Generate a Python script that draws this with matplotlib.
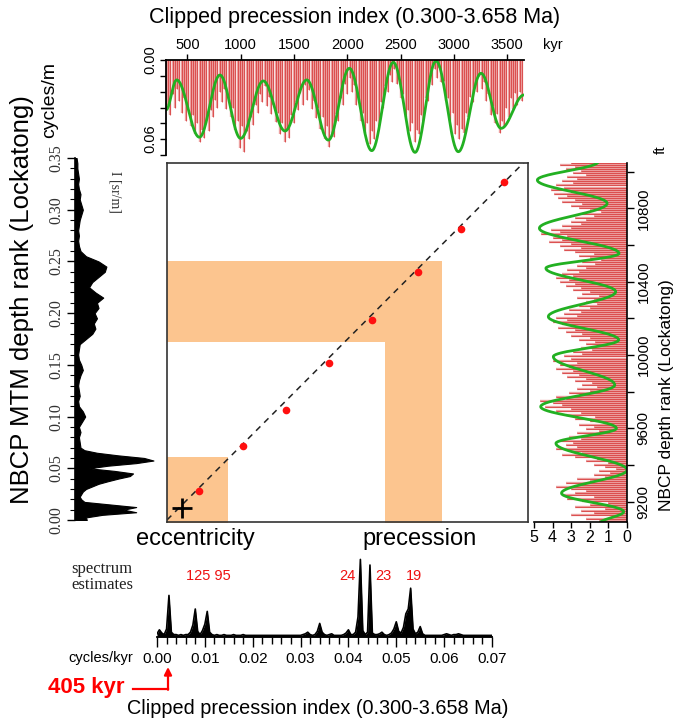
import numpy as np
import matplotlib
matplotlib.use('Agg')
import matplotlib.pyplot as plt
from matplotlib.ticker import MultipleLocator

W, H = 678, 724
plt.rcParams['font.family'] = ['Liberation Sans', 'DejaVu Sans']

# ------------------------------------------------------------------ data
# Top panel: clipped precession index (spike depth, 1/1000 units), one per 21 kyr from 300 kyr
prec_start_kyr = 300
prec_step_kyr = 21
prec_depth_milli = [
    38, 34, 42, 26, 36, 22, 31, 40, 29, 46, 36, 50, 42, 56, 48, 62, 53, 59, 46, 54,
    38, 43, 30, 36, 24, 32, 22, 37, 29, 43, 36, 53, 46, 67, 50, 70, 54, 60, 43, 49,
    34, 40, 26, 32, 20, 35, 28, 41, 34, 47, 40, 56, 48, 62, 53, 59, 42, 48, 32, 38,
    25, 34, 19, 30, 23, 37, 31, 44, 36, 52, 43, 60, 50, 66, 55, 58, 41, 46, 29, 34,
    18, 26, 14, 24, 19, 34, 30, 46, 40, 55, 48, 64, 54, 60, 46, 50, 32, 36, 20, 24,
    11, 17, 7, 18, 14, 29, 26, 43, 38, 54, 48, 62, 53, 56, 42, 46, 29, 31, 16, 19,
    7, 14, 6, 17, 16, 31, 29, 46, 40, 56, 49, 60, 52, 55, 40, 43, 28, 32, 18, 24,
    12, 22, 17, 31, 26, 42, 35, 48, 41, 55, 46, 50, 36, 43, 29, 37, 25, 34, 24, 31]
# green filtered curve: extrema (kyr, value)
green_top_kyr = [300, 400, 613, 806, 1000, 1213, 1416, 1620, 1823, 2020, 2230,
                 2432, 2636, 2833, 3042, 3255, 3443, 3658]
green_top_val = [0.0378, 0.0151, 0.0585, 0.0114, 0.0594, 0.0159, 0.0538, 0.0151,
                 0.0607, 0.0063, 0.0687, 0.0018, 0.0700, 0.0007, 0.0695, 0.0101,
                 0.0518, 0.0265]
top_xticks = [500, 1000, 1500, 2000, 2500, 3000, 3500]

# Right panel: NBCP depth rank (tenths), evenly spaced from 9092 ft to 11045 ft
rank_depth_range_ft = (9092, 11045)
rank_tenths = [
    15, 22, 8, 30, 18, 25, 12, 28, 20, 10,
    24, 32, 18, 35, 28, 22, 30, 38, 25, 33,
    20, 27, 12, 18, 9, 15, 6, 12, 18, 10,
    22, 16, 28, 35, 24, 30, 38, 27, 33, 29,
    36, 25, 31, 20, 27, 15, 22, 18, 26, 12,
    20, 28, 17, 33, 25, 38, 30, 44, 35, 40,
    47, 33, 38, 26, 31, 20, 27, 16, 24, 19,
    28, 22, 32, 26, 35, 29, 38, 31, 36, 27,
    40, 30, 34, 24, 29, 19, 25, 14, 22, 17,
    26, 20, 30, 24, 33, 28, 37, 30, 35, 40,
    32, 38, 27, 34, 25, 31, 20, 26, 16, 22,
    18, 27, 15, 24, 20, 29, 25, 33, 28, 36,
    31, 38, 29, 35, 26, 32, 22, 27, 17, 24,
    14, 20, 26, 18, 28, 34, 25, 36, 30, 42,
    35, 40, 32, 46, 36, 41, 30, 35, 25, 30,
    22, 28, 18, 24, 14, 20, 26, 30, 24, 35,
    28, 37, 32, 39, 30, 41, 34, 38, 29, 35,
    27, 32, 22, 29, 25, 33, 28, 36, 30]
green_right_ft = [11054, 10954, 10827, 10691, 10554, 10473, 10345, 10209, 10082,
                  9991, 9836, 9718, 9600, 9518, 9373, 9246, 9145, 9082]
green_right_val = [1.55, 4.82, 1.07, 4.71, 0.43, 4.36, 0.61, 4.23, 0.45,
                   3.96, 0.66, 4.64, 0.57, 3.82, 0.00, 3.52, 0.18, 1.46]
right_yticks = [9200, 9400, 9600, 9800, 10000, 10200, 10400, 10600, 10800, 11000]
right_ylabels = ['9200', '', '9600', '', '10000', '', '10400', '', '10800', '']

# Left panel: MTM spectrum of depth rank (cycles/m, relative power)
left_amp_fine = [0.15, 0.14, 0.35, 0.78, 0.62, 0.78, 0.45, 0.12, 0.08, 0.06,
                 0.08, 0.10, 0.14, 0.22, 0.30, 0.42, 0.55, 0.70, 0.74, 0.50,
                 0.18, 0.42, 0.78, 1.00, 0.88, 0.55, 0.28, 0.12, 0.07]   # 0..0.07 step 0.0025
left_amp_coarse = [0.06, 0.05, 0.07, 0.05, 0.09, 0.13, 0.10, 0.05, 0.04, 0.06,
                   0.05, 0.04, 0.05, 0.07, 0.10, 0.08, 0.05, 0.04, 0.05, 0.06,
                   0.14, 0.22, 0.26, 0.24, 0.28, 0.25, 0.30, 0.28, 0.36, 0.26,
                   0.18, 0.22, 0.30, 0.38, 0.40, 0.30, 0.14, 0.07, 0.05, 0.04,
                   0.05, 0.04, 0.05, 0.06, 0.08, 0.10, 0.08, 0.06, 0.07, 0.05,
                   0.04, 0.05, 0.04, 0.03, 0.03, 0.02]                    # 0.075..0.35 step 0.005

# Bottom panel: spectrum of clipped precession index (cycles/kyr, step 0.0005)
bottom_amp = [
    0.04, 0.09, 0.05, 0.03, 0.10, 0.52, 0.06, 0.03, 0.03, 0.02,
    0.03, 0.02, 0.03, 0.03, 0.06, 0.15, 0.35, 0.07, 0.03, 0.08,
    0.16, 0.32, 0.06, 0.03, 0.02, 0.03, 0.02, 0.02, 0.03, 0.02,
    0.02, 0.02, 0.03, 0.02, 0.02, 0.02, 0.03, 0.02, 0.02, 0.02,
    0.02, 0.02, 0.02, 0.02, 0.02, 0.02, 0.02, 0.02, 0.02, 0.02,
    0.02, 0.02, 0.02, 0.02, 0.02, 0.02, 0.02, 0.02, 0.02, 0.02,
    0.02, 0.03, 0.04, 0.06, 0.03, 0.02, 0.03, 0.07, 0.17, 0.06,
    0.03, 0.02, 0.03, 0.04, 0.02, 0.02, 0.02, 0.02, 0.03, 0.05,
    0.09, 0.03, 0.03, 0.06, 0.25, 0.97, 0.08, 0.03, 0.06, 0.90,
    0.05, 0.03, 0.03, 0.04, 0.06, 0.03, 0.02, 0.03, 0.05, 0.10,
    0.19, 0.07, 0.05, 0.12, 0.29, 0.35, 0.61, 0.10, 0.04, 0.06,
    0.13, 0.04, 0.02, 0.02, 0.02, 0.02, 0.02, 0.02, 0.02, 0.02,
    0.03, 0.04, 0.03, 0.02, 0.03, 0.03, 0.04, 0.03, 0.02, 0.02,
    0.02, 0.02, 0.02, 0.02, 0.02, 0.02, 0.02, 0.02, 0.02, 0.02,
    0.02]
bottom_step = 0.0005
bottom_xticks = [0.00, 0.01, 0.02, 0.03, 0.04, 0.05, 0.06, 0.07]
peak_labels = ['125 95', '24', '23', '19']

# Centre panel: frequency cross-plot
dot_cyc_kyr = [0.0062, 0.0147, 0.0231, 0.0315, 0.0398, 0.0486, 0.0570, 0.0653]
dot_cyc_m = [0.0284, 0.0716, 0.1064, 0.1516, 0.1939, 0.2397, 0.2813, 0.3268]
plus_cyc_kyr = [0.00285]
plus_cyc_m = [0.0113]
diag_x = [0.0, 0.07]
diag_y = [0.0, 0.35]
ecc_band_kyr = [0.0, 0.0118]
ecc_band_m = [0.0, 0.061]
prec_band_kyr = [0.0423, 0.0534]
prec_band_m = [0.1725, 0.2506]

# ------------------------------------------------------------------ helpers
def rect(x0, y0, x1, y1):
    return [x0 / W, 1 - y1 / H, (x1 - x0) / W, (y1 - y0) / H]


def smooth_through(xs, ys, n=40):
    X, Y = [], []
    for i in range(len(xs) - 1):
        s = np.linspace(0, 1, n, endpoint=False)
        X.append(xs[i] + (xs[i + 1] - xs[i]) * s)
        Y.append(ys[i] + (ys[i + 1] - ys[i]) * (1 - np.cos(np.pi * s)) / 2)
    X.append([xs[-1]])
    Y.append([ys[-1]])
    return np.concatenate(X), np.concatenate(Y)


RED = '#d42a2a'
PINK = '#e68080'
GREEN = '#22b022'
ORANGE = '#fcc58f'
SPINE = '#333333'
SERIF = ['Liberation Serif', 'DejaVu Serif']

fig = plt.figure(figsize=(W / 100, H / 100), dpi=100)
fig.patch.set_facecolor('white')

# ------------------------------------------------------------------ top panel
axT = fig.add_axes(rect(166, 60, 524, 155))
t = prec_start_kyr + prec_step_kyr * np.arange(len(prec_depth_milli))
dT = np.array(prec_depth_milli) / 1000.0
axT.vlines(t, 0, dT, color=PINK, alpha=0.75, lw=1.7)
axT.vlines(t, 0, dT, color=RED, alpha=0.8, lw=0.6)
gx, gy = smooth_through(green_top_kyr, green_top_val)
axT.plot(gx, gy, color=GREEN, lw=2)
axT.set_xlim(300, 3658)
axT.set_ylim(0.072, 0)
axT.xaxis.tick_top()
axT.set_xticks(top_xticks)
axT.set_yticks([0, 0.012, 0.024, 0.036, 0.048, 0.06, 0.072])
axT.set_yticklabels(['0.00', '', '', '', '', '0.06', ''])
for s in ['right', 'bottom']:
    axT.spines[s].set_visible(False)
for s in ['top', 'left']:
    axT.spines[s].set_linewidth(1.3)
axT.tick_params(axis='x', labelsize=10.5, length=4, width=1, pad=2)
axT.tick_params(axis='y', labelsize=10.5, length=4, width=1, labelrotation=90, pad=2)
for lab in axT.get_yticklabels():
    lab.set_va('center')

# ------------------------------------------------------------------ centre panel
axC = fig.add_axes(rect(167, 163, 528, 522))
axC.set_xlim(0, 0.07)
axC.set_ylim(-0.002, 0.3455)
axC.fill_between(ecc_band_kyr, -0.01, ecc_band_m[1], color=ORANGE, lw=0)
axC.fill_between([0.0, prec_band_kyr[1]], prec_band_m[0], prec_band_m[1], color=ORANGE, lw=0)
axC.fill_between(prec_band_kyr, -0.01, prec_band_m[1], color=ORANGE, lw=0)
axC.plot(diag_x, diag_y, color='#222222', lw=1.1, dashes=(4, 3.5))
axC.plot(dot_cyc_kyr, dot_cyc_m, 'o', color='#ff1010', ms=5.5, mec='none')
axC.plot(plus_cyc_kyr, plus_cyc_m, marker='+', ms=14, mew=2, color='black', ls='none')
axC.set_xticks([])
axC.set_yticks([])
for s in axC.spines.values():
    s.set_color(SPINE)
    s.set_linewidth(1.2)

# ------------------------------------------------------------------ left spectrum
axL = fig.add_axes(rect(75, 158, 155, 520))
freqL = np.concatenate([np.arange(len(left_amp_fine)) * 0.0025,
                        0.075 + np.arange(len(left_amp_coarse)) * 0.005])
ampL = np.array(left_amp_fine + left_amp_coarse)
axL.fill_betweenx(freqL, 0, ampL, color='black', lw=0.8)
axL.set_ylim(0, 0.35)
axL.set_xlim(0, 1.02)
axL.patch.set_alpha(0)
for s in ['right', 'top', 'bottom']:
    axL.spines[s].set_visible(False)
axL.spines['left'].set_linewidth(1.2)
axL.set_xticks([])
axL.yaxis.set_minor_locator(MultipleLocator(0.01))
axL.set_yticks([0, 0.05, 0.10, 0.15, 0.20, 0.25, 0.30, 0.35])
axL.set_yticklabels(['0.00', '0.05', '0.10', '0.15', '0.20', '0.25', '0.30', '0.35'])
axL.tick_params(axis='y', which='major', length=6, width=1, labelsize=11.5,
                labelrotation=90, pad=2)
axL.tick_params(axis='y', which='minor', length=3.5, width=0.8)
for lab in axL.get_yticklabels():
    lab.set_family(SERIF)
    lab.set_va('center')
    lab.set_color('#333333')

# ------------------------------------------------------------------ right panel
axR = fig.add_axes(rect(534, 163, 627, 522))
depths = np.linspace(rank_depth_range_ft[0], rank_depth_range_ft[1], len(rank_tenths))
vR = np.array(rank_tenths) / 10.0
axR.hlines(depths, 0, vR, color=PINK, alpha=0.75, lw=1.7)
axR.hlines(depths, 0, vR, color=RED, alpha=0.8, lw=0.6)
rx, ry = smooth_through(green_right_ft, green_right_val)
axR.plot(ry, rx, color=GREEN, lw=2)
axR.set_xlim(5, 0)
axR.set_ylim(9089, 11047)
axR.patch.set_alpha(0)
axR.yaxis.tick_right()
axR.set_yticks(right_yticks)
axR.set_yticklabels(right_ylabels)
axR.set_xticks([5, 4, 3, 2, 1, 0])
for s in ['left', 'top']:
    axR.spines[s].set_visible(False)
for s in ['right', 'bottom']:
    axR.spines[s].set_linewidth(1.2)
axR.tick_params(axis='y', length=5, width=1, labelsize=11, labelrotation=90, pad=2)
axR.tick_params(axis='x', length=4, width=1, labelsize=11.5, pad=2)
for lab in axR.get_yticklabels():
    lab.set_va('center')

# ------------------------------------------------------------------ bottom spectrum
axB = fig.add_axes(rect(157, 557, 492, 637))
fB = np.arange(len(bottom_amp)) * bottom_step
axB.fill_between(fB, 0, bottom_amp, color='black', lw=0)
axB.plot(fB, bottom_amp, color='black', lw=1.2)
axB.set_xlim(0, 0.07)
axB.set_ylim(0, 1.0)
axB.patch.set_alpha(0)
for s in ['left', 'right', 'top']:
    axB.spines[s].set_visible(False)
axB.spines['bottom'].set_linewidth(1.3)
axB.set_yticks([])
axB.set_xticks(bottom_xticks)
axB.set_xticklabels(['%.2f' % v for v in bottom_xticks])
axB.xaxis.set_minor_locator(MultipleLocator(0.002))
axB.tick_params(axis='x', which='major', length=7, width=1, labelsize=11, pad=4)
axB.tick_params(axis='x', which='minor', length=5, width=1)

# ------------------------------------------------------------------ free text overlay
ov = fig.add_axes([0, 0, 1, 1])
ov.set_xlim(0, W)
ov.set_ylim(H, 0)
ov.axis('off')
ov.set_zorder(10)
ov.patch.set_alpha(0)

ov.text(355, 18, 'Clipped precession index (0.300-3.658 Ma)', fontsize=15.5,
        ha='center', va='center')
ov.text(553, 45, 'kyr', fontsize=10.5, ha='center', va='center')
ov.text(50, 100, 'cycles/m', fontsize=14, rotation=90, ha='center', va='center')
ov.text(22, 300, 'NBCP MTM depth rank (Lockatong)', fontsize=18.5, rotation=90,
        ha='center', va='center')
ov.text(115, 192, 'I [sr/m]', fontsize=10, rotation=-90, ha='center', va='center',
        family=SERIF, color='#333333')
ov.text(661, 150, 'ft', fontsize=11, rotation=90, ha='center', va='center')
ov.text(667, 395, 'NBCP depth rank (Lockatong)', fontsize=12.5, rotation=90,
        ha='center', va='center')
ov.text(195, 539, 'eccentricity', fontsize=17, ha='center', va='center')
ov.text(420, 539, 'precession', fontsize=17, ha='center', va='center')
ov.text(102, 577, 'spectrum\nestimates', fontsize=12, ha='center', va='center',
        family=SERIF, linespacing=0.95, color='#222222')
label_x = [208, 347, 383, 414]
for lx, txt in zip(label_x, peak_labels):
    ov.text(lx, 576, txt, fontsize=10.5, color='#ee1111', ha='center', va='center')
ov.text(101, 658, 'cycles/kyr', fontsize=10.5, ha='center', va='center')
ov.text(86, 688, '405 kyr', fontsize=16, fontweight='bold', color='#ff0000',
        ha='center', va='center')
ov.plot([133, 168], [689, 689], color='#ff0000', lw=1.6)
ov.annotate('', xy=(168, 667), xytext=(168, 689.8),
            arrowprops=dict(arrowstyle='-|>', color='#ff0000', lw=1.6,
                            mutation_scale=11, shrinkA=0, shrinkB=0))
ov.text(318, 708, 'Clipped precession index (0.300-3.658 Ma)', fontsize=14.3,
        ha='center', va='center')

fig.savefig('out.png', dpi=100)
